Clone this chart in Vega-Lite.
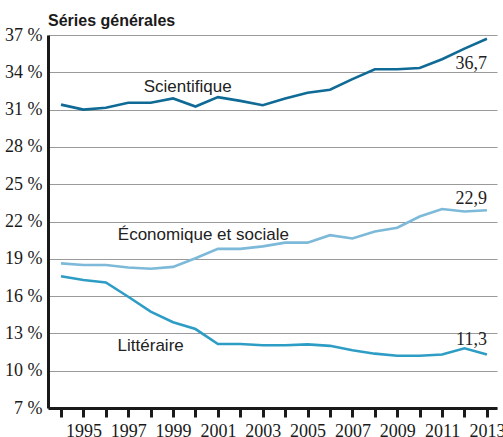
{
  "$schema": "https://vega.github.io/schema/vega-lite/v6.json",
  "width": 449,
  "height": 373,
  "autosize": {"type": "none"},
  "padding": {"left": 48, "top": 35, "right": 6, "bottom": 29},
  "background": "white",
  "config": {"view": {"stroke": null}},
  "title": {
    "text": "Séries générales",
    "anchor": "start",
    "frame": "group",
    "font": "Liberation Sans",
    "fontSize": 16,
    "fontWeight": "bold",
    "color": "#1a1a1a",
    "baseline": "alphabetic",
    "offset": 9,
    "dy": 25
  },
  "datasets": {
    "series": [
      {"year": 1994, "serie": "Scientifique", "value": 31.4},
      {"year": 1995, "serie": "Scientifique", "value": 31.0},
      {"year": 1996, "serie": "Scientifique", "value": 31.15},
      {"year": 1997, "serie": "Scientifique", "value": 31.55},
      {"year": 1998, "serie": "Scientifique", "value": 31.55},
      {"year": 1999, "serie": "Scientifique", "value": 31.9},
      {"year": 2000, "serie": "Scientifique", "value": 31.25},
      {"year": 2001, "serie": "Scientifique", "value": 32.0},
      {"year": 2002, "serie": "Scientifique", "value": 31.7},
      {"year": 2003, "serie": "Scientifique", "value": 31.35},
      {"year": 2004, "serie": "Scientifique", "value": 31.9},
      {"year": 2005, "serie": "Scientifique", "value": 32.35},
      {"year": 2006, "serie": "Scientifique", "value": 32.6},
      {"year": 2007, "serie": "Scientifique", "value": 33.45},
      {"year": 2008, "serie": "Scientifique", "value": 34.25},
      {"year": 2009, "serie": "Scientifique", "value": 34.25},
      {"year": 2010, "serie": "Scientifique", "value": 34.35},
      {"year": 2011, "serie": "Scientifique", "value": 35.05},
      {"year": 2012, "serie": "Scientifique", "value": 35.9},
      {"year": 2013, "serie": "Scientifique", "value": 36.7},
      {"year": 1994, "serie": "Économique et sociale", "value": 18.63},
      {"year": 1995, "serie": "Économique et sociale", "value": 18.5},
      {"year": 1996, "serie": "Économique et sociale", "value": 18.5},
      {"year": 1997, "serie": "Économique et sociale", "value": 18.3},
      {"year": 1998, "serie": "Économique et sociale", "value": 18.2},
      {"year": 1999, "serie": "Économique et sociale", "value": 18.35},
      {"year": 2000, "serie": "Économique et sociale", "value": 19.05},
      {"year": 2001, "serie": "Économique et sociale", "value": 19.8},
      {"year": 2002, "serie": "Économique et sociale", "value": 19.8},
      {"year": 2003, "serie": "Économique et sociale", "value": 20.0},
      {"year": 2004, "serie": "Économique et sociale", "value": 20.3},
      {"year": 2005, "serie": "Économique et sociale", "value": 20.3},
      {"year": 2006, "serie": "Économique et sociale", "value": 20.9},
      {"year": 2007, "serie": "Économique et sociale", "value": 20.63},
      {"year": 2008, "serie": "Économique et sociale", "value": 21.2},
      {"year": 2009, "serie": "Économique et sociale", "value": 21.5},
      {"year": 2010, "serie": "Économique et sociale", "value": 22.4},
      {"year": 2011, "serie": "Économique et sociale", "value": 23.0},
      {"year": 2012, "serie": "Économique et sociale", "value": 22.8},
      {"year": 2013, "serie": "Économique et sociale", "value": 22.9},
      {"year": 1994, "serie": "Littéraire", "value": 17.6},
      {"year": 1995, "serie": "Littéraire", "value": 17.3},
      {"year": 1996, "serie": "Littéraire", "value": 17.1},
      {"year": 1997, "serie": "Littéraire", "value": 15.95},
      {"year": 1998, "serie": "Littéraire", "value": 14.75},
      {"year": 1999, "serie": "Littéraire", "value": 13.9},
      {"year": 2000, "serie": "Littéraire", "value": 13.35},
      {"year": 2001, "serie": "Littéraire", "value": 12.15},
      {"year": 2002, "serie": "Littéraire", "value": 12.15},
      {"year": 2003, "serie": "Littéraire", "value": 12.05},
      {"year": 2004, "serie": "Littéraire", "value": 12.05},
      {"year": 2005, "serie": "Littéraire", "value": 12.12},
      {"year": 2006, "serie": "Littéraire", "value": 12.0},
      {"year": 2007, "serie": "Littéraire", "value": 11.65},
      {"year": 2008, "serie": "Littéraire", "value": 11.37},
      {"year": 2009, "serie": "Littéraire", "value": 11.2},
      {"year": 2010, "serie": "Littéraire", "value": 11.2},
      {"year": 2011, "serie": "Littéraire", "value": 11.3},
      {"year": 2012, "serie": "Littéraire", "value": 11.8},
      {"year": 2013, "serie": "Littéraire", "value": 11.3}
    ],
    "names": [
      {"year": 1999.65, "value": 32.45, "label": "Scientifique"},
      {"year": 2000.35, "value": 20.53, "label": "Économique et sociale"},
      {"year": 1998.0, "value": 11.58, "label": "Littéraire"}
    ],
    "ends": [
      {"year": 2013, "value": 34.24, "label": "36,7"},
      {"year": 2013, "value": 23.39, "label": "22,9"},
      {"year": 2013, "value": 12.06, "label": "11,3"}
    ]
  },
  "encoding": {
    "x": {
      "field": "year",
      "type": "quantitative",
      "scale": {"domain": [1993.42, 2013.45], "nice": false, "zero": false},
      "axis": {
        "title": null,
        "values": [1994,1995,1996,1997,1998,1999,2000,2001,2002,2003,2004,2005,2006,2007,2008,2009,2010,2011,2012,2013],
        "labelExpr": "datum.value % 2 == 1 ? datum.value : ''",
        "format": "d",
        "grid": false,
        "domainColor": "#1a1a1a",
        "domainWidth": 3,
        "tickColor": "#1a1a1a",
        "tickWidth": 3,
        "tickSize": 9,
        "labelFont": "Liberation Sans Narrow",
        "labelFontSize": 18,
        "labelColor": "#1a1a1a",
        "labelPadding": 5,
        "labelOverlap": false,
        "labelFlush": false
      }
    },
    "y": {
      "field": "value",
      "type": "quantitative",
      "scale": {"domain": [7, 37], "nice": false, "zero": false},
      "axis": {
        "title": null,
        "values": [7,10,13,16,19,22,25,28,31,34,37],
        "labelExpr": "datum.value + ' %'",
        "ticks": false,
        "grid": true,
        "gridColor": "#9a9a9a",
        "gridWidth": 1,
        "domainColor": "#1a1a1a",
        "domainWidth": 3,
        "labelFont": "Liberation Sans Narrow",
        "labelFontSize": 18,
        "labelColor": "#1a1a1a",
        "labelPadding": 6,
        "labelFlush": false
      }
    }
  },
  "layer": [
    {
      "data": {"name": "series"},
      "mark": {"type": "line", "strokeWidth": 2.6},
      "encoding": {
        "color": {
          "field": "serie",
          "type": "nominal",
          "scale": {"domain": ["Scientifique", "Économique et sociale", "Littéraire"], "range": ["#0f6b96", "#7db9d8", "#2e9dc5"]},
          "legend": null
        }
      }
    },
    {
      "data": {"name": "names"},
      "mark": {"type": "text", "font": "Liberation Sans", "fontSize": 17, "color": "#222222", "align": "center", "baseline": "alphabetic"},
      "encoding": {"text": {"field": "label"}}
    },
    {
      "data": {"name": "ends"},
      "mark": {"type": "text", "font": "Liberation Sans Narrow", "fontSize": 18, "color": "#222222", "align": "right", "baseline": "alphabetic"},
      "encoding": {"text": {"field": "label"}}
    }
  ]
}
